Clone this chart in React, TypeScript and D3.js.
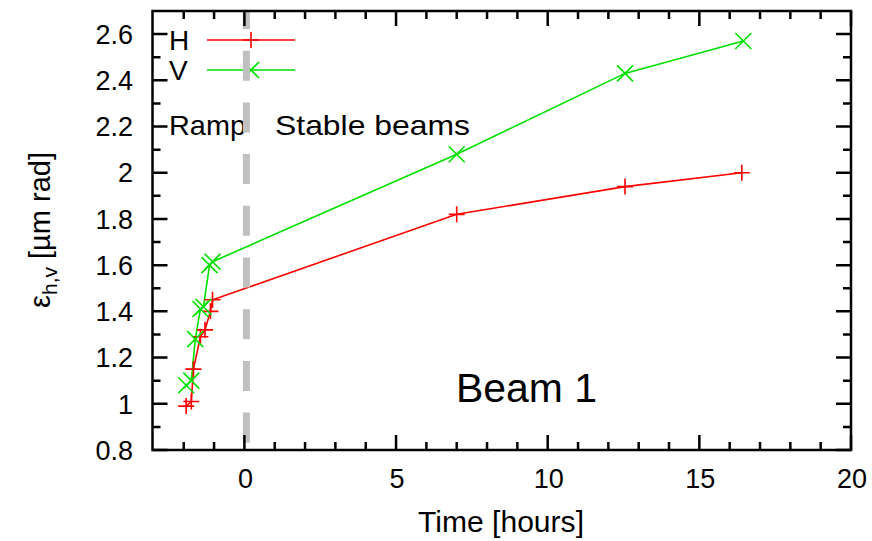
import * as d3 from "d3";

const hTime = [-1.92, -1.75, -1.68, -1.45, -1.3, -1.12, -1.05, 7.0, 12.55, 16.4];
const hEmit = [0.99, 1.01, 1.15, 1.29, 1.32, 1.4, 1.45, 1.82, 1.94, 2.0];
const vTime = [-1.92, -1.75, -1.62, -1.45, -1.35, -1.15, -1.05, 7.0, 12.55, 16.45];
const vEmit = [1.08, 1.1, 1.28, 1.41, 1.42, 1.6, 1.615, 2.08, 2.43, 2.57];

const xMajor = [0, 5, 10, 15, 20];
const yMajor = [0.8, 1, 1.2, 1.4, 1.6, 1.8, 2, 2.2, 2.4, 2.6];

const W = 872, H = 541;
const FONT = "'Liberation Sans', Arial, Helvetica, sans-serif";
const RED = "#ff0000";
const GREEN = "#00e000";

const x = d3.scaleLinear().domain([-3.03, 20]).range([152.5, 851]);
const y = d3.scaleLinear().domain([0.8, 2.7]).range([450, 11]);

function Plus({ cx, cy, s = 8, color }) {
  return (
    <path d={`M${cx - s},${cy}H${cx + s}M${cx},${cy - s}V${cy + s}`} stroke={color} strokeWidth={1.6} fill="none" />
  );
}

function Cross({ cx, cy, s = 8, color }) {
  return (
    <path
      d={`M${cx - s},${cy - s}L${cx + s},${cy + s}M${cx - s},${cy + s}L${cx + s},${cy - s}`}
      stroke={color}
      strokeWidth={1.6}
      fill="none"
    />
  );
}

export default function App() {
  const hPts = hTime.map((t, i) => [t, hEmit[i]]);
  const vPts = vTime.map((t, i) => [t, vEmit[i]]);
  const line = d3.line<number[]>().x(d => x(d[0])).y(d => y(d[1]));

  const [x0, x1] = x.range();
  const [y0, y1] = y.range();
  const xMinor = d3.range(-2, 20, 1).filter(v => !xMajor.includes(v));
  const yMinor = d3.range(0.9, 2.7, 0.2);

  return (
    <svg width={W} height={H} style={{ position: "absolute", left: 0, top: 0, background: "#fff" }} fontFamily={FONT}>
      {/* data */}
      <path d={line(hPts)!} stroke={RED} strokeWidth={1.6} fill="none" />
      <path d={line(vPts)!} stroke={GREEN} strokeWidth={1.6} fill="none" />
      {hPts.map((d, i) => <Plus key={"h" + i} cx={x(d[0])} cy={y(d[1])} color={RED} />)}
      {vPts.map((d, i) => <Cross key={"v" + i} cx={x(d[0])} cy={y(d[1])} color={GREEN} />)}

      {/* legend */}
      <text x={169} y={40} dy="0.36em" fontSize={28}>H</text>
      <line x1={207} x2={295} y1={40} y2={40} stroke={RED} strokeWidth={1.6} />
      <Plus cx={251} cy={40} color={RED} />
      <text x={169} y={70} dy="0.36em" fontSize={28}>V</text>
      <line x1={207} x2={295} y1={70} y2={70} stroke={GREEN} strokeWidth={1.6} />
      <Cross cx={251} cy={70} color={GREEN} />

      {/* annotations */}
      <text x={169} y={135} fontSize={28} textLength={77} lengthAdjust="spacingAndGlyphs">Ramp</text>
      <text x={275} y={135} fontSize={28} textLength={195} lengthAdjust="spacingAndGlyphs">Stable beams</text>
      <text x={456} y={402} fontSize={40} textLength={141} lengthAdjust="spacingAndGlyphs">Beam 1</text>

      {/* ramp / stable boundary */}
      <line
        x1={x(0) + 2}
        x2={x(0) + 2}
        y1={y1}
        y2={y0}
        stroke="#c0c0c0"
        strokeWidth={7}
        strokeDasharray="30,21.7"
        strokeDashoffset={12}
      />

      {/* frame and ticks */}
      <g stroke="#000" strokeWidth={2.5} fill="none">
        <rect x={x0} y={y1} width={x1 - x0} height={y0 - y1} />
        {xMajor.map(v => (
          <path key={"xm" + v} d={`M${x(v)},${y0}v-15M${x(v)},${y1}v15`} />
        ))}
        {xMinor.map(v => (
          <path key={"xn" + v} d={`M${x(v)},${y0}v-8M${x(v)},${y1}v8`} />
        ))}
        {yMajor.map(v => (
          <path key={"ym" + v} d={`M${x0},${y(v)}h15M${x1},${y(v)}h-15`} />
        ))}
        {yMinor.map(v => (
          <path key={"yn" + v} d={`M${x0},${y(v)}h8M${x1},${y(v)}h-8`} />
        ))}
      </g>

      {/* tick labels */}
      {xMajor.map(v => (
        <text key={"xl" + v} x={x(v) + 1} y={488} textAnchor="middle" fontSize={27}>{v}</text>
      ))}
      {yMajor.map(v => (
        <text key={"yl" + v} x={133} y={y(v)} dy="0.36em" textAnchor="end" fontSize={27}>{d3.format("~g")(v)}</text>
      ))}

      {/* axis titles */}
      <text x={418} y={532} fontSize={30} textLength={166} lengthAdjust="spacingAndGlyphs">Time [hours]</text>
      <text transform="translate(50,230) rotate(-90)" textAnchor="middle" fontSize={29}>
        ε<tspan fontSize={21} dy={7}>h,v</tspan><tspan dy={-7}> [µm rad]</tspan>
      </text>
    </svg>
  );
}
